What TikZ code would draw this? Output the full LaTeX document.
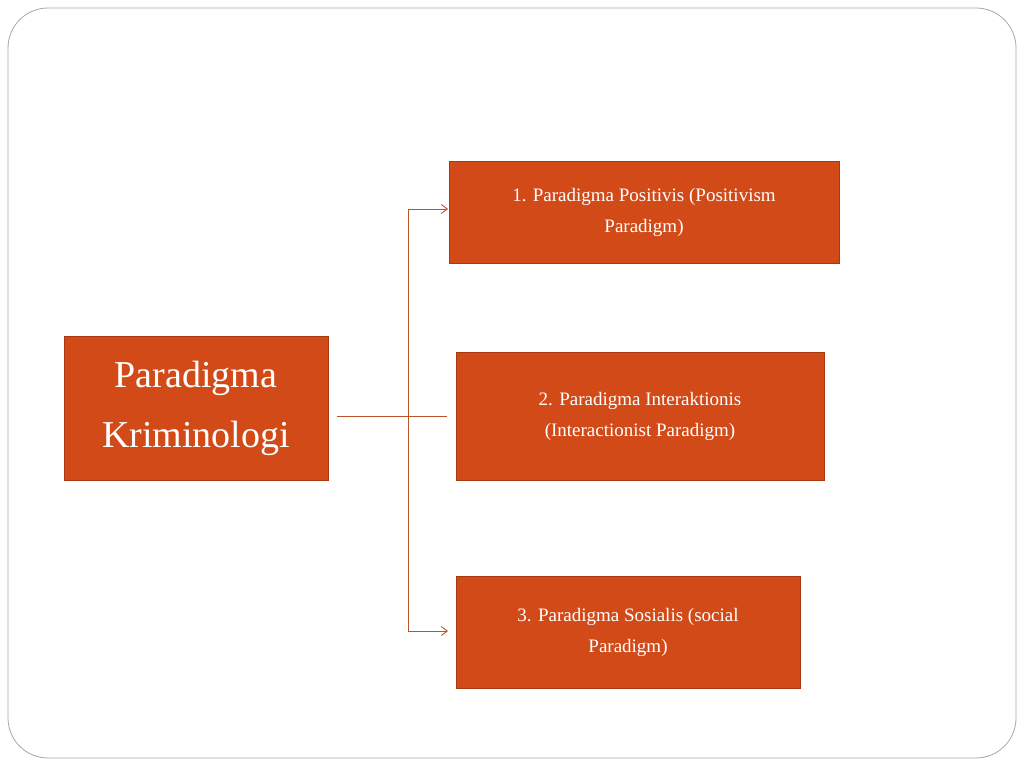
\documentclass[tikz,border=0pt]{standalone}
\usepackage{fontspec}
\setmainfont{Liberation Serif}
\usetikzlibrary{arrows.meta}
\definecolor{boxfill}{HTML}{D24A18}
\definecolor{boxline}{HTML}{A8380F}
\definecolor{conn}{HTML}{C0522A}
\begin{document}
\begin{tikzpicture}[x=1pt,y=-1pt,
  box/.style={draw=boxline,fill=boxfill,text=white,align=center,inner sep=0pt,font=\fontsize{19}{31}\selectfont},
  conn/.style={draw=conn,line width=0.9pt},
  arr/.style={conn,-{Straight Barb[length=6pt,width=9pt]}}]
\useasboundingbox (0,0) rectangle (1024,768);
\draw[gray!70,line width=0.8pt,rounded corners=40pt] (8,8) rectangle (1016,758);
\node[box,minimum width=264pt,minimum height=144pt,font=\fontsize{38}{60}\selectfont] (k) at (196,408) {Paradigma\\Kriminologi};
\node[box,minimum width=390pt,minimum height=102pt] (b1) at (644,212) {1. Paradigma Positivis (Positivism\\Paradigm)};
\node[box,minimum width=368pt,minimum height=128pt] (b2) at (640,416) {2. Paradigma Interaktionis\\(Interactionist Paradigm)};
\node[box,minimum width=344pt,minimum height=112pt] (b3) at (628,632) {3. Paradigma Sosialis (social\\Paradigm)};
\coordinate (s) at (337,416);
\coordinate (e) at (447,416);
\coordinate (t) at (408,209);
\coordinate (bt) at (408,631);
\draw[conn] (s) -- (e);
\draw[conn] (t) -- (bt);
\draw[arr] (t) -- (448,209);
\draw[arr] (bt) -- (448,631);
\end{tikzpicture}
\end{document}
